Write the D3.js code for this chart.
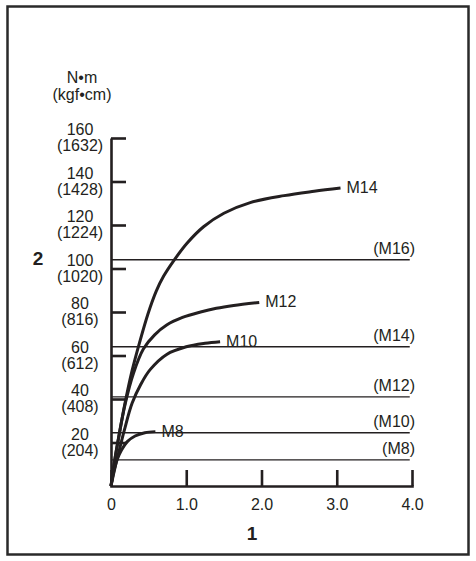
<!DOCTYPE html>
<html>
<head>
<meta charset="utf-8">
<script src="https://cdn.jsdelivr.net/npm/d3@7"></script>
<style>
  body { margin: 0; background: #fff; }
  text { font-family: "Liberation Sans", Arial, sans-serif; fill: #231f20; }
</style>
</head>
<body>
<div class="chart"></div>
<script>
var svgWidth = 476;
var svgHeight = 561;

// torque (N·m) tick values and their kgf·cm equivalents
var yTicks = [20, 40, 60, 80, 100, 120, 140, 160];
var yTicksKgf = ["204", "408", "612", "816", "1020", "1224", "1428", "1632"];
var xTicks = [0, 1, 2, 3, 4];

// recommended torque per bolt size (horizontal lines)
var refNames = ["(M16)", "(M14)", "(M12)", "(M10)", "(M8)"];
var refValues = [104, 64, 41, 24.5, 12];

// curves
var curveNames = ["M14", "M12", "M10", "M8"];
var m14X = [0, 0.05, 0.1, 0.18, 0.28, 0.38, 0.49, 0.6, 0.7, 0.83, 1.01, 1.23, 1.5, 1.85, 2.3, 2.7, 3.05];
var m14Y = [0, 12, 22, 37, 53, 66, 79, 89.5, 96.5, 103.4, 111.6, 119.2, 125.4, 130.3, 133.5, 135.5, 137];
var m12X = [0, 0.05, 0.1, 0.19, 0.3, 0.43, 0.58, 0.74, 0.95, 1.19, 1.4, 1.63, 1.97];
var m12Y = [0, 12, 22, 38, 52, 63, 69.5, 74, 77.5, 80, 81.7, 83, 84.4];
var m10X = [0, 0.05, 0.1, 0.18, 0.28, 0.4, 0.52, 0.74, 1.0, 1.25, 1.45];
var m10Y = [0, 8, 15, 26, 38, 47, 53.5, 60.5, 64, 65.6, 66.3];
var m8X = [0, 0.04, 0.08, 0.14, 0.22, 0.32, 0.45, 0.59];
var m8Y = [0, 7, 12, 16.5, 20.5, 23, 24.5, 25];

var curves = [[m14X, m14Y], [m12X, m12Y], [m10X, m10Y], [m8X, m8Y]].map((c, i) => ({
  name: curveNames[i],
  pts: c[0].map((x, j) => [x, c[1][j]])
}));

var svg = d3.select(".chart")
  .append("svg")
  .attr("width", svgWidth)
  .attr("height", svgHeight);

// outer frame
svg.append("rect")
  .attr("x", 7.5).attr("y", 6.5)
  .attr("width", 461).attr("height", 548)
  .attr("fill", "none")
  .attr("stroke", "#2a2a2a")
  .attr("stroke-width", 2.5);

var x = d3.scaleLinear().domain([0, 4]).range([111, 412]);
var y = d3.scaleLinear().domain([0, 160]).range([486, 138]);

var ink = "#231f20";

// reference lines
refValues.forEach((v, i) => {
  svg.append("line")
    .attr("x1", x(0)).attr("x2", x(3.97))
    .attr("y1", y(v)).attr("y2", y(v))
    .attr("stroke", ink)
    .attr("stroke-width", 1.4);
  svg.append("text")
    .attr("x", 415)
    .attr("y", y(v) - 6)
    .attr("text-anchor", "end")
    .attr("font-size", "16px")
    .text(refNames[i]);
});

// axes
var leftAxis = d3.axisLeft(y).tickValues(yTicks).tickSize(-15).tickSizeOuter(0).tickFormat("");
var bottomAxis = d3.axisBottom(x).tickValues(xTicks).tickSize(-16).tickSizeOuter(0).tickPadding(13)
  .tickFormat(d => d === 0 ? "0" : d3.format(".1f")(d));

var gy = svg.append("g")
  .attr("transform", `translate(${x(0)},0)`)
  .call(leftAxis);
var gx = svg.append("g")
  .attr("transform", `translate(0,${y(0)})`)
  .call(bottomAxis);

[gx, gy].forEach(g => {
  g.selectAll("path, line").attr("stroke", ink).attr("stroke-width", 2.6);
});
gx.select(".domain").attr("stroke-linecap", "square");
gx.selectAll("text")
  .attr("font-size", "16px")
  .attr("fill", ink)
  .style("font-family", "'Liberation Sans', Arial, sans-serif");

// y tick labels: N·m over (kgf·cm)
yTicks.forEach((v, i) => {
  var t = svg.append("text")
    .attr("text-anchor", "middle")
    .attr("font-size", "16px");
  t.append("tspan").attr("x", 80).attr("y", y(v) - 3).text(v);
  t.append("tspan").attr("x", 80).attr("y", y(v) + 13).text("(" + yTicksKgf[i] + ")");
});

// unit labels
svg.append("text").attr("text-anchor", "middle").attr("font-size", "16px")
  .attr("x", 82).attr("y", 83).text("N•m");
svg.append("text").attr("text-anchor", "middle").attr("font-size", "16px")
  .attr("x", 82).attr("y", 100).text("(kgf•cm)");

svg.append("text")
  .attr("x", 38).attr("y", 265)
  .attr("text-anchor", "middle")
  .attr("font-size", "19px")
  .attr("font-weight", "bold")
  .text("2");

svg.append("text")
  .attr("x", 252).attr("y", 540)
  .attr("text-anchor", "middle")
  .attr("font-size", "19px")
  .attr("font-weight", "bold")
  .text("1");

// torque curves
var line = d3.line()
  .x(d => x(d[0]))
  .y(d => y(d[1]))
  .curve(d3.curveCatmullRom.alpha(0.5));

svg.selectAll(".curve")
  .data(curves)
  .enter()
  .append("path")
  .attr("class", "curve")
  .attr("d", d => line(d.pts))
  .attr("fill", "none")
  .attr("stroke", ink)
  .attr("stroke-width", 3);

svg.selectAll(".curveLabel")
  .data(curves)
  .enter()
  .append("text")
  .attr("class", "curveLabel")
  .attr("x", d => x(d.pts[d.pts.length - 1][0]) + 6)
  .attr("y", d => y(d.pts[d.pts.length - 1][1]) + 5)
  .attr("font-size", "16px")
  .text(d => d.name);
</script>
</body>
</html>
